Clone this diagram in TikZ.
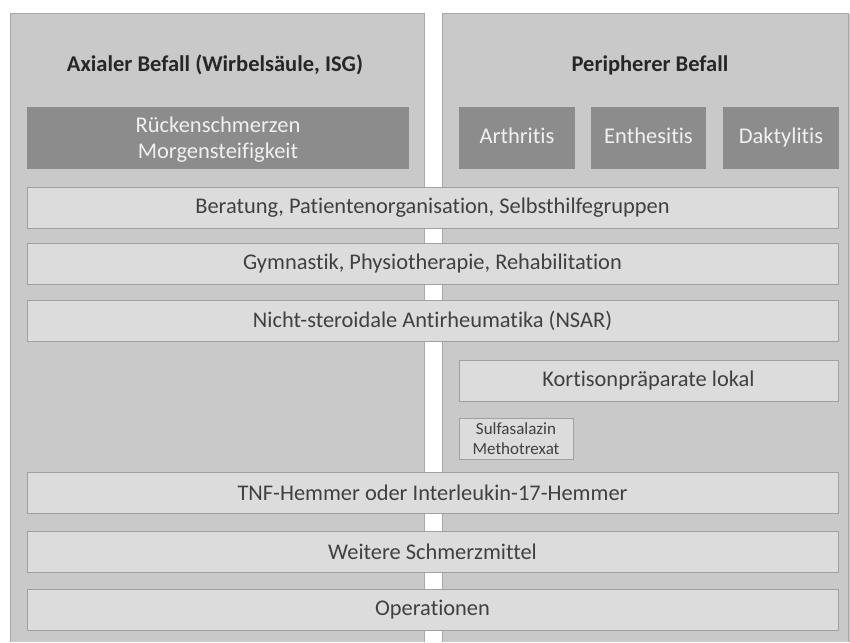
\documentclass[tikz,border=0pt]{standalone}
\usepackage{fontspec}
\setmainfont{Carlito}[Ligatures={NoCommon}]
\definecolor{panelfill}{HTML}{C9C9C9}
\definecolor{panelline}{HTML}{A8A8A8}
\definecolor{barfill}{HTML}{DCDCDC}
\definecolor{barline}{HTML}{A0A0A0}
\definecolor{darkfill}{HTML}{8C8C8C}
\definecolor{bartext}{HTML}{404040}
\begin{document}
\begin{tikzpicture}[x=1pt,y=-1pt,
  panel/.style={fill=panelfill},
  panelborder/.style={draw=panelline,line width=1pt},
  bar/.style={draw=barline,fill=barfill,line width=0.8pt,text=bartext,
    minimum height=41pt,inner sep=0pt,font=\fontsize{22.4}{26}\selectfont},
  dark/.style={fill=darkfill,text=white!94!black,minimum height=62pt,inner sep=0pt,
    font=\fontsize{22.5}{26}\selectfont,align=center},
  title/.style={font=\bfseries\fontsize{22.5}{26}\selectfont,text=black!85}]
\useasboundingbox (0,0) rectangle (850,642);
\fill[white] (0,0) rectangle (850,642);
% panels
\fill[panel] (10,14) rectangle (424,642);
\draw[panelborder] (10,642) -- (10,14) -- (424,14) -- (424,642);
\fill[panel] (442,14) rectangle (850,642);
\draw[panelborder] (442,642) -- (442,14) -- (848,14) -- (848,642);
% titles
\node[title] (tl) at (215,65) {Axialer Befall (Wirbelsäule, ISG)};
\node[title] (tr) at (650,65) {Peripherer Befall};
% dark boxes
\node[dark,minimum width=382pt] (ruck) at (218,138) {};
\node[text=white!94!black,font=\fontsize{22.5}{26}\selectfont,align=center,inner sep=0pt] (rucktext) at (218,140) {Rückenschmerzen\\Morgensteifigkeit};
\node[dark,minimum width=116pt,text height=15pt,text depth=5pt] (arth) at (517,138) {Arthritis};
\node[dark,minimum width=115pt,text height=15pt,text depth=5pt] (enth) at (648.5,138) {Enthesitis};
\node[dark,minimum width=116pt,text height=15pt,text depth=5pt] (dakt) at (781,138) {Daktylitis};
% bars
\node[bar,minimum width=811pt] (ber) at (432.5,207.5) {Beratung, Patientenorganisation, Selbsthilfegruppen};
\node[bar,minimum width=811pt] (gym) at (432.5,264) {Gymnastik, Physiotherapie, Rehabilitation};
\node[bar,minimum width=811pt] (nsar) at (432.5,321) {Nicht-steroidale Antirheumatika (NSAR)};
\node[bar,minimum width=379pt] (kort) at (648.5,380.5) {Kortisonpräparate lokal};
\node[bar,minimum width=114pt,minimum height=41pt,align=center,
  font=\fontsize{17}{20.5}\selectfont] (sulf) at (516,438.5) {Sulfasalazin\\Methotrexat};
\node[bar,minimum width=811pt] (tnf) at (432.5,493) {TNF-Hemmer oder Interleukin-17-Hemmer};
\node[bar,minimum width=811pt] (weit) at (432.5,551.5) {Weitere Schmerzmittel};
\node[bar,minimum width=811pt] (op) at (432.5,610) {Operationen};
\end{tikzpicture}
\end{document}
